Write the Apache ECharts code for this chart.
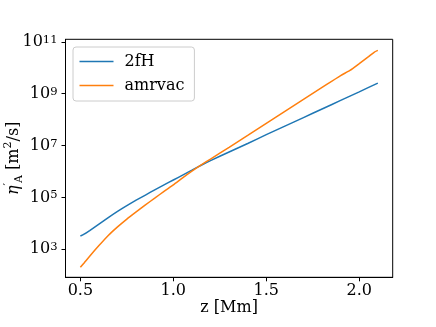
<!DOCTYPE html>
<html>
<head>
<meta charset="utf-8">
<script src="https://cdn.jsdelivr.net/npm/echarts@6/dist/echarts.min.js"></script>
<style>html,body{margin:0;padding:0;background:#fff}#c{width:436px;height:327px}</style>
</head>
<body>
<div id="c"></div>
<script>
// z [Mm]
const zBlue = [0.50,0.52,0.55,0.60,0.65,0.70,0.75,0.80,0.85,0.90,0.95,1.00,1.05,1.10,1.15,1.20,1.30,1.40,1.50,1.60,1.70,1.80,1.90,2.00,2.10];
// eta'_A [m^2/s], series "2fH"
const eta2fH = [3.24e3,3.80e3,5.25e3,9.33e3,1.66e4,2.88e4,4.79e4,7.76e4,1.23e5,1.95e5,3.02e5,4.68e5,7.24e5,1.12e6,1.74e6,2.63e6,5.62e6,1.20e7,2.63e7,5.62e7,1.20e8,2.57e8,5.50e8,1.18e9,2.57e9];
const zOrange = [0.50,0.52,0.55,0.60,0.65,0.70,0.75,0.80,0.85,0.90,0.95,1.00,1.05,1.10,1.15,1.20,1.30,1.40,1.50,1.60,1.70,1.80,1.90,1.95,2.00,2.05,2.08,2.10];
// series "amrvac"
const etaAmrvac = [2.00e2,2.95e2,5.37e2,1.38e3,3.39e3,7.24e3,1.45e4,2.75e4,5.13e4,9.33e4,1.70e5,3.02e5,5.62e5,1.02e6,1.78e6,3.02e6,8.51e6,2.45e7,7.24e7,2.09e8,6.03e8,1.74e9,5.01e9,7.94e9,1.45e10,2.69e10,3.98e10,4.68e10];
const seriesNames = ['2fH','amrvac'];
const xTicks = [0.5,1.0,1.5,2.0];
const yTickExps = [3,5,7,9,11];

const FONT = 'DejaVu Serif';
const toPts = (xs, ys) => xs.map((x,i)=>[x, Math.log10(ys[i])]);
const LINE_ICON = 'path://M0,0L34,0L34,1.5L0,1.5Z';

const chart = echarts.init(document.getElementById('c'), null, {renderer:'canvas'});
chart.setOption({
  animation:false,
  backgroundColor:'#fff',
  grid:{left:65.5, right:43.3, top:39.3, bottom:49.7, containLabel:false, outerBoundsMode:'none',
        show:true, borderColor:'#000', borderWidth:1, backgroundColor:'transparent'},
  legend:{
    orient:'vertical', left:73, top:47,
    padding:[6.5,10,7.5,6.5],
    itemWidth:34, itemHeight:16, itemGap:8,
    icon:LINE_ICON,
    borderColor:'#cccccc', borderWidth:1, borderRadius:3,
    backgroundColor:'rgba(255,255,255,0.8)',
    textStyle:{fontFamily:FONT, fontSize:16, color:'#000', lineHeight:16, padding:[0,0,0,6]},
    data:seriesNames
  },
  xAxis:{
    type:'value', min:0.42, max:2.18,
    name:'z [Mm]', nameLocation:'middle', nameGap:23, nameMoveOverlap:false,
    nameTextStyle:{fontFamily:FONT, fontSize:16, color:'#000'},
    axisLine:{show:true, lineStyle:{color:'#000', width:1}},
    axisTick:{show:true, inside:false, length:4, lineStyle:{color:'#000', width:1}, customValues:xTicks},
    axisLabel:{fontFamily:FONT, fontSize:16, color:'#000', margin:6, customValues:xTicks, formatter:v=>v.toFixed(1)},
    splitLine:{show:false}
  },
  yAxis:{
    type:'value', min:1.915, max:11.10,
    name:'{it|η}{sup|′}{sub|A}{n| [m}{sup|2}{n|/s]}', nameLocation:'middle', nameGap:41, nameRotate:90, nameMoveOverlap:false,
    nameTextStyle:{fontFamily:FONT, fontSize:16, color:'#000',
      rich:{
        n:{fontFamily:FONT, fontSize:16, color:'#000', lineHeight:22, verticalAlign:'middle'},
        it:{fontFamily:FONT, fontSize:16, fontStyle:'italic', color:'#000', lineHeight:22, verticalAlign:'middle'},
        sup:{fontFamily:FONT, fontSize:11, color:'#000', lineHeight:11, verticalAlign:'top'},
        sub:{fontFamily:FONT, fontSize:11, color:'#000', lineHeight:11, verticalAlign:'bottom'}
      }},
    axisLine:{show:true, lineStyle:{color:'#000', width:1}},
    axisTick:{show:true, inside:false, length:4, lineStyle:{color:'#000', width:1}, customValues:yTickExps},
    axisLabel:{margin:8, customValues:yTickExps,
      formatter:v=>'{b|10}{s|'+Math.round(v)+'}',
      rich:{
        b:{fontFamily:FONT, fontSize:16, color:'#000', lineHeight:16, padding:[6,0,0,0], verticalAlign:'bottom'},
        s:{fontFamily:FONT, fontSize:11.5, color:'#000', lineHeight:12, verticalAlign:'top'}
      }},
    splitLine:{show:false}
  },
  series:[
    {name:seriesNames[0], type:'line', data:toPts(zBlue, eta2fH), symbol:'none', showSymbol:false, smooth:0.2,
     lineStyle:{color:'#1f77b4', width:1.5}, itemStyle:{color:'#1f77b4'}},
    {name:seriesNames[1], type:'line', data:toPts(zOrange, etaAmrvac), symbol:'none', showSymbol:false, smooth:0.2,
     lineStyle:{color:'#ff7f0e', width:1.5}, itemStyle:{color:'#ff7f0e'}}
  ]
});
</script>
</body>
</html>
